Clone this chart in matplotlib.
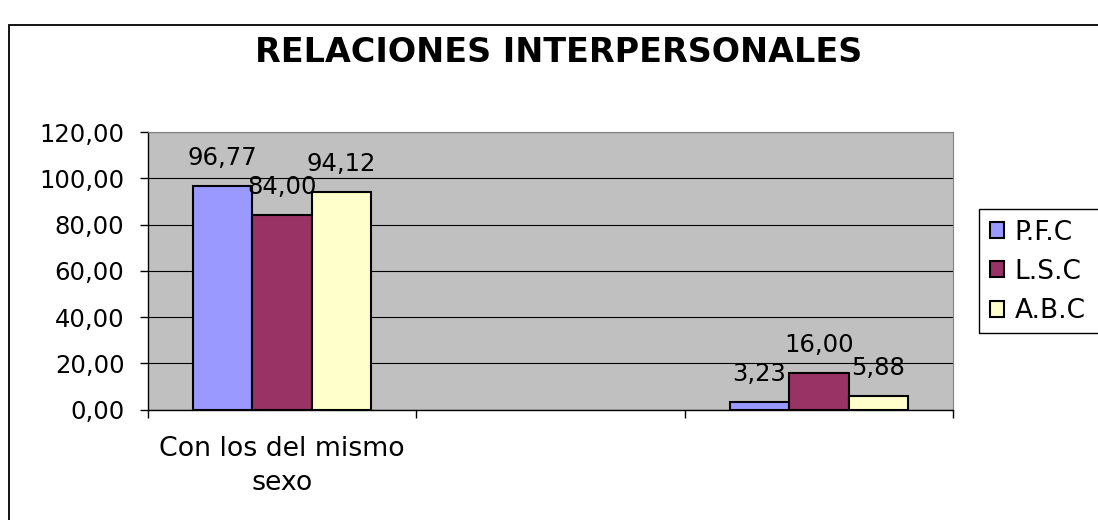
import matplotlib
matplotlib.use("Agg")
import matplotlib.pyplot as plt
from matplotlib.patches import Rectangle, Patch
import numpy as np

# ---- data ----
categories = ["Con los del mismo\nsexo", "", ""]
series_names = ["P.F.C", "L.S.C", "A.B.C"]
pfc = [96.77, np.nan, 3.23]
lsc = [84.00, np.nan, 16.00]
abc = [94.12, np.nan, 5.88]
yticks = [0, 20, 40, 60, 80, 100, 120]
title = "RELACIONES INTERPERSONALES"

colors = ["#9999FF", "#993366", "#FFFFCC"]
series = [pfc, lsc, abc]

W, H = 1098, 520
fig = plt.figure(figsize=(W / 100, H / 100), dpi=100)
plt.rcParams['font.family'] = ['DejaVu Sans']

def fx(px):
    return px / W

def fy(py):
    return 1 - py / H

# outer chart border (extends beyond the figure on right and bottom)
fig.patches.append(Rectangle((fx(9), fy(560)), fx(1200), (560 - 25) / H,
                             transform=fig.transFigure, fill=False,
                             edgecolor="black", linewidth=1.3))

ax = fig.add_axes([fx(148), fy(409.7), fx(953) - fx(148), (409.7 - 132) / H])
ax.set_facecolor("#C0C0C0")

x = np.arange(len(categories))
bw = 0.2216
for i, (vals, c) in enumerate(zip(series, colors)):
    pos = x + (i - 1) * bw
    ax.bar(pos, vals, width=bw, color=c, edgecolor="black",
           linewidth=1.5, zorder=3)
    for xp, v in zip(pos, vals):
        if np.isnan(v):
            continue
        ax.annotate(f"{v:.2f}".replace(".", ","), (xp, v),
                    xytext=(0, 15), textcoords="offset points",
                    ha="center", va="baseline", fontsize=17.5, zorder=4)

ax.set_xlim(-0.5, len(categories) - 0.5)
ax.set_ylim(0, 120)
ax.set_yticks(yticks)
ax.set_yticklabels([f"{t:.2f}".replace(".", ",") for t in yticks], fontsize=17.5)
ax.yaxis.grid(True, color="black", linewidth=0.8, zorder=1)
ax.set_axisbelow(True)

ax.set_xticks(x)
ax.set_xticklabels(categories, fontsize=19.3, linespacing=1.4)
ax.set_xticks(np.arange(-0.5, len(categories), 1.0), minor=True)
ax.tick_params(axis="x", which="major", length=0, pad=19)
ax.tick_params(axis="x", which="minor", length=6, width=1, color="black")
ax.tick_params(axis="y", length=6, width=1, pad=11, color="black")

ax.spines["left"].set_color("black")
ax.spines["bottom"].set_color("black")
ax.spines["left"].set_linewidth(1.0)
ax.spines["bottom"].set_linewidth(1.0)
ax.spines["top"].set_color("#808080")
ax.spines["right"].set_color("#808080")

# title
fig.text(fx(558.5), fy(62), title, ha="center", va="baseline",
         fontsize=24, fontweight="bold")

# legend frame (extends beyond figure at right)
fig.patches.append(Rectangle((fx(979), fy(333)), fx(200), (333 - 209) / H,
                             transform=fig.transFigure, fill=False,
                             edgecolor="black", linewidth=1.0))
handles = [Patch(facecolor=c, edgecolor="black", linewidth=1.5) for c in colors]
fig.legend(handles, series_names, loc="upper left",
           bbox_to_anchor=(fx(979), fy(209)), bbox_transform=fig.transFigure,
           frameon=False, fontsize=19, handlelength=0.55, handleheight=0.55,
           handletextpad=0.4, borderpad=0.4, labelspacing=0.5,
           borderaxespad=0)

fig.savefig("out.png", dpi=100)
